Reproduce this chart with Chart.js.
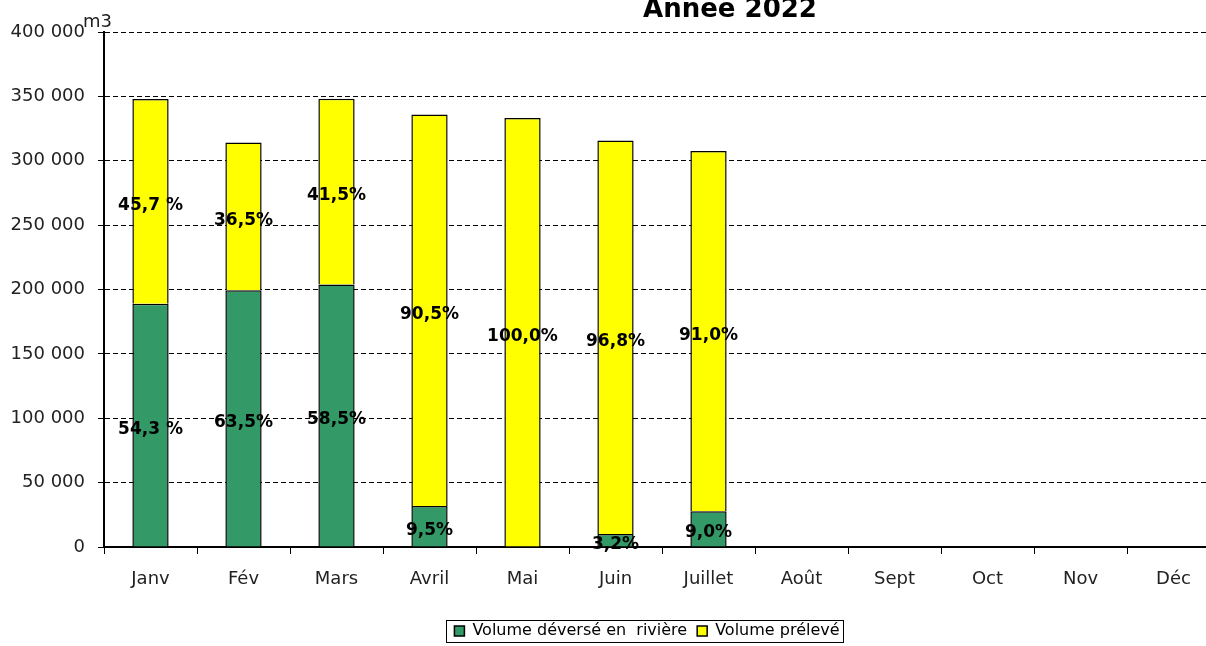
<!DOCTYPE html>
<html><head><meta charset="utf-8">
<script src="https://cdn.jsdelivr.net/npm/chart.js@4/dist/chart.umd.min.js"></script>
<style>
html,body{margin:0;padding:0;background:#fff;overflow:hidden;width:1206px;height:646px}
#wrap{position:absolute;left:0;top:0;width:1230px;height:646px}
</style>
</head><body><div id="wrap"><canvas id="c"></canvas></div>
<script>
const categories = ['Janv','Fév','Mars','Avril','Mai','Juin','Juillet','Août','Sept','Oct','Nov','Déc'];
const volumeDeverse = [189000,199500,203800,31900,0,10100,27700,null,null,null,null,null];
const volumePreleve = [159000,114600,144300,304000,333300,305600,279800,null,null,null,null,null];
const labelsDeverse = ['54,3 %','63,5%','58,5%','9,5%','','3,2%','9,0%','','','','',''];
const labelsPreleve = ['45,7 %','36,5%','41,5%','90,5%','100,0%','96,8%','91,0%','','','','',''];
const seriesNames = ['Volume déversé en  rivière','Volume prélevé'];
const chartTitle = 'Année 2022';
const unitLabel = 'm3';

const FONT = "'DejaVu Sans', sans-serif";
const fmt = v => String(v).replace(/\B(?=(\d{3})+(?!\d))/g, ' ');
const pctLabels = [labelsDeverse, labelsPreleve];

const decor = {
  id: 'decor',
  afterLayout(chart) {
    const lg = chart.legend;
    lg.left -= 15; lg.right -= 15;
    lg.top += 5; lg.bottom += 5;
  },
  afterDatasetsDraw(chart) {
    const ctx = chart.ctx;
    ctx.save();
    ctx.font = "bold 17px " + FONT;
    ctx.fillStyle = '#000';
    ctx.textAlign = 'center';
    ctx.textBaseline = 'middle';
    chart.data.datasets.forEach((ds, i) => {
      const meta = chart.getDatasetMeta(i);
      meta.data.forEach((el, j) => {
        const t = pctLabels[i][j];
        if (!t) return;
        ctx.fillText(t, el.x, (el.y + el.base) / 2 + 4);
      });
    });
    ctx.restore();
  },
  afterDraw(chart) {
    const ctx = chart.ctx, ca = chart.chartArea;
    ctx.save();
    ctx.fillStyle = '#000';
    ctx.font = "bold 26px " + FONT;
    ctx.textAlign = 'center';
    ctx.textBaseline = 'alphabetic';
    ctx.fillText(chartTitle, 730, 16.5);
    ctx.font = "18px " + FONT;
    ctx.textAlign = 'left';
    ctx.fillStyle = '#222';
    ctx.fillText(unitLabel, ca.left - 21, ca.top - 5);
    const lg = chart.legend;
    const hb = lg.legendHitBoxes;
    if (hb && hb.length) {
      let l = Infinity, r = -Infinity, t = Infinity, b = -Infinity;
      hb.forEach(h => { l = Math.min(l, h.left); r = Math.max(r, h.left + h.width); t = Math.min(t, h.top); b = Math.max(b, h.top + h.height); });
      ctx.strokeStyle = '#000';
      ctx.lineWidth = 1;
      ctx.strokeRect(Math.round(l - 8) + 0.5, Math.round(t - 3) + 0.5, Math.round(r - l + 12), Math.round(b - t + 6));
    }
    ctx.restore();
  }
};

new Chart(document.getElementById('c'), {
  type: 'bar',
  data: {
    labels: categories,
    datasets: [
      { label: seriesNames[0], data: volumeDeverse, backgroundColor: '#339966', borderColor: '#000', borderWidth: 1.5 },
      { label: seriesNames[1], data: volumePreleve, backgroundColor: '#FFFF00', borderColor: '#000', borderWidth: 1.5 }
    ]
  },
  options: {
    responsive: true,
    maintainAspectRatio: false,
    animation: false,
    devicePixelRatio: 1,
    datasets: { bar: { barPercentage: 0.39, categoryPercentage: 1 } },
    layout: { padding: { left: 0, right: 10, top: 32, bottom: 2 } },
    plugins: {
      title: { display: false },
      tooltip: { enabled: false },
      legend: {
        position: 'bottom',
        fullSize: false,
        labels: { boxWidth: 10, boxHeight: 10, font: { family: FONT, size: 16 }, color: '#000', padding: 10 }
      }
    },
    scales: {
      x: {
        stacked: true,
        afterFit: s => { s.height = 61; },
        grid: { display: true, drawOnChartArea: false, drawTicks: true, tickLength: 7, color: '#000', lineWidth: 1, offset: true },
        border: { display: true, color: '#000', width: 2 },
        ticks: { font: { family: FONT, size: 18 }, color: '#222', padding: 15, maxRotation: 0, autoSkip: false }
      },
      y: {
        stacked: true,
        min: 0, max: 400000,
        afterFit: s => { s.width = 104; },
        grid: { color: '#000', lineWidth: 1, tickLength: 6, drawTicks: true, tickBorderDash: [] },
        border: { display: true, color: '#000', width: 2, dash: [5, 3] },
        ticks: { stepSize: 50000, font: { family: FONT, size: 18 }, color: '#222', padding: 13, callback: v => fmt(v) }
      }
    }
  },
  plugins: [decor]
});
</script>
</body></html>
